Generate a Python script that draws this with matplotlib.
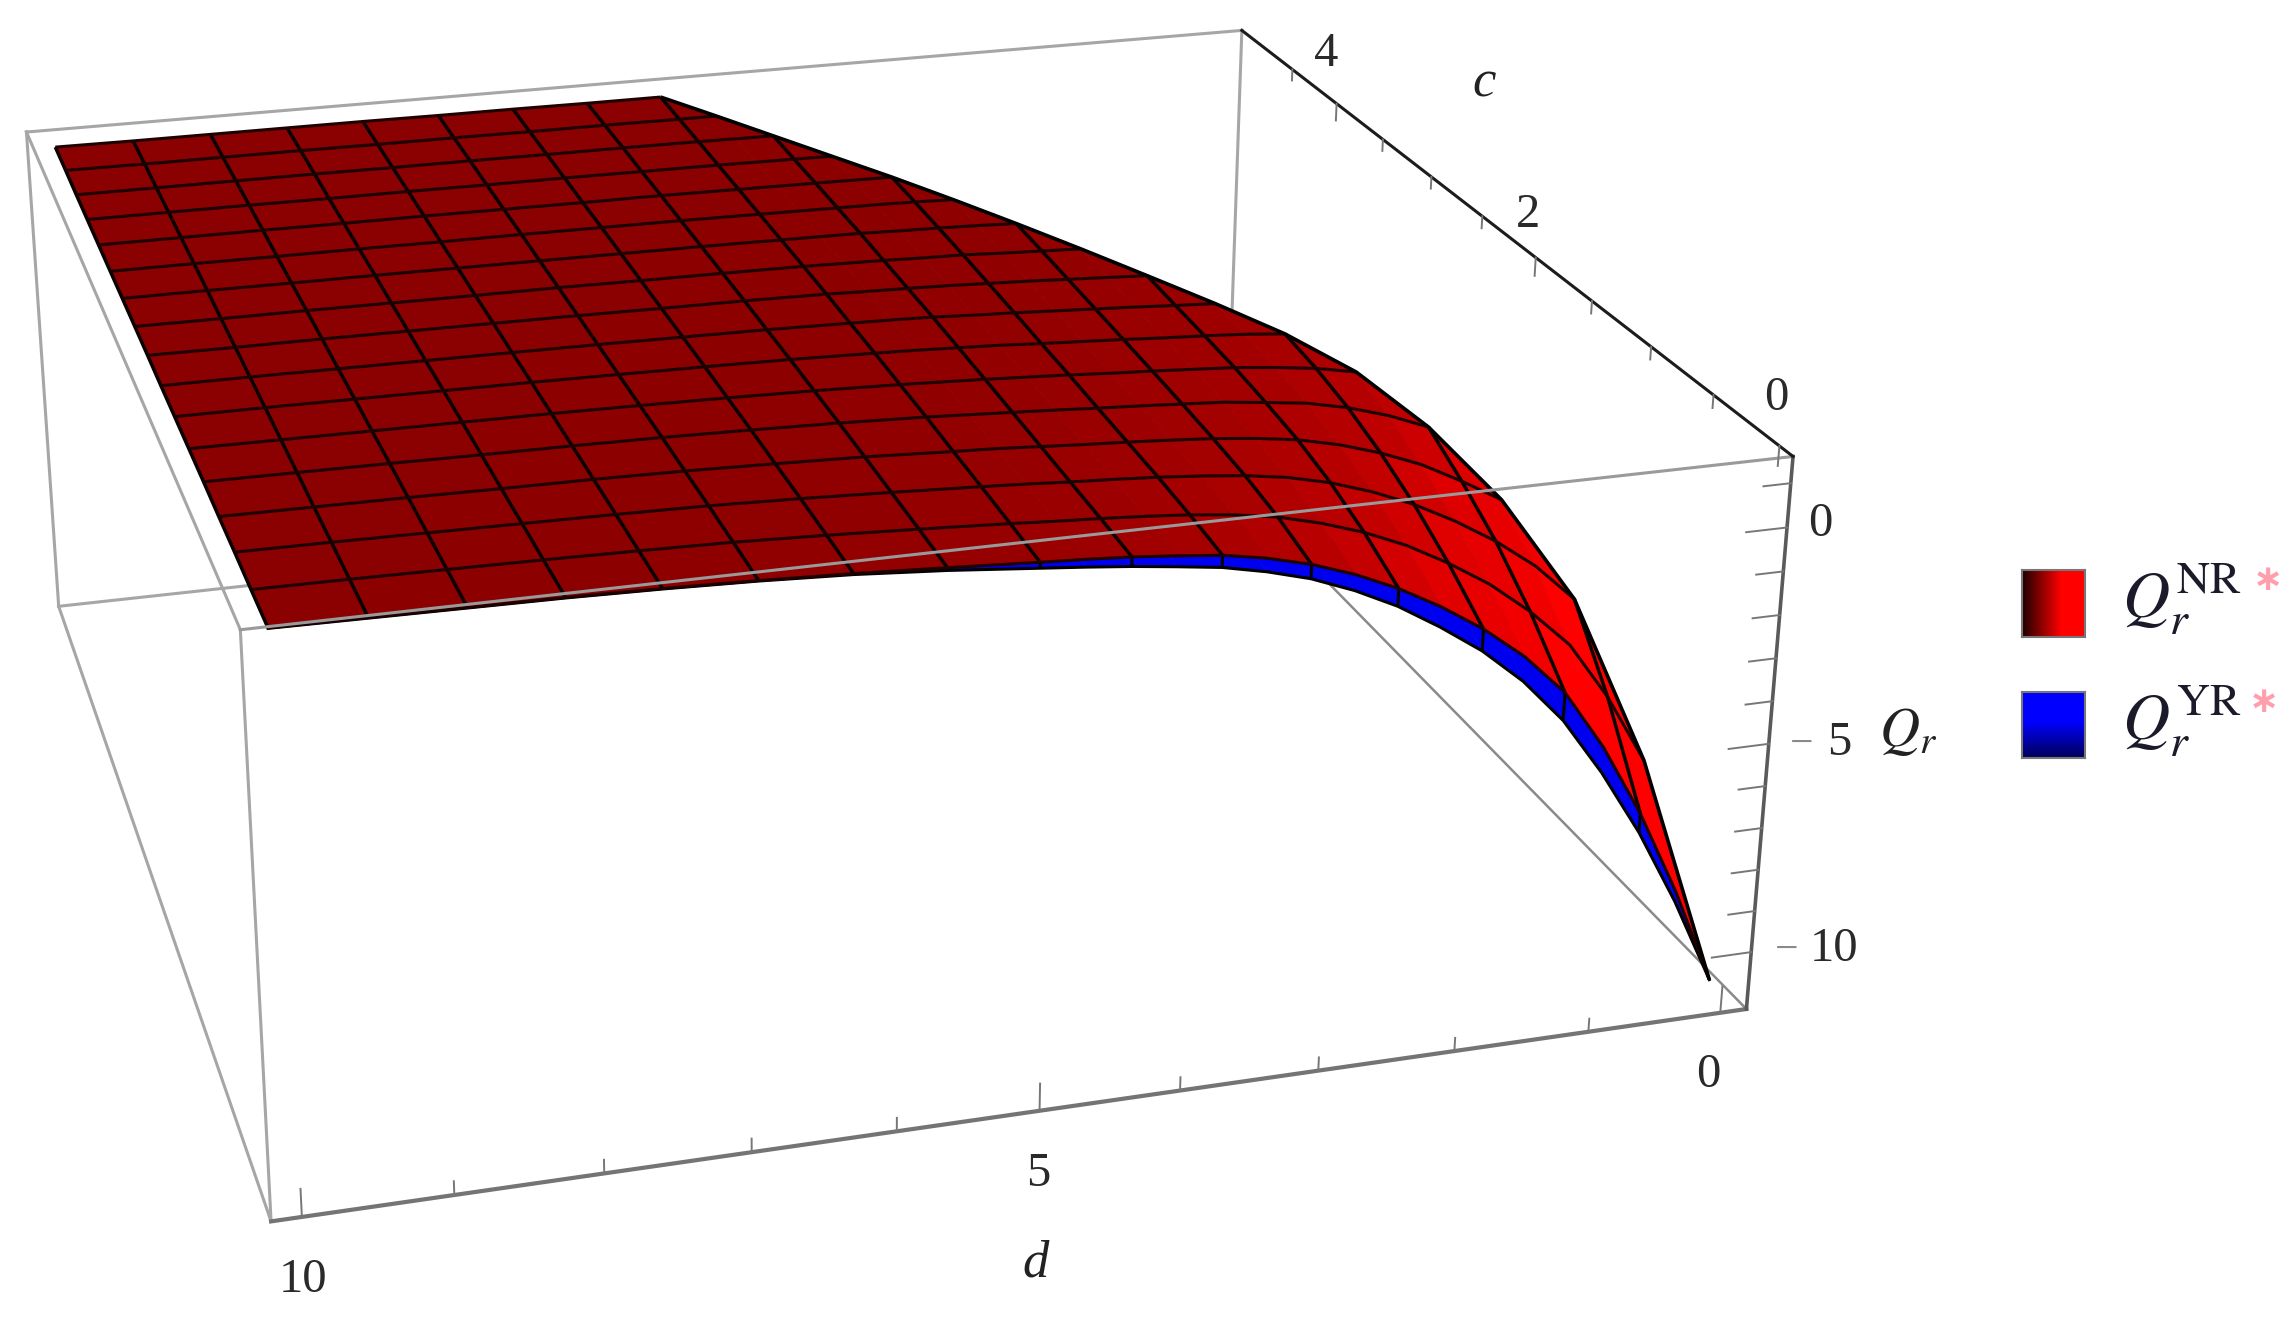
"""
Surface plot of Qr over d and c, with the NR surface above the YR surface.
"""

import numpy as np
import matplotlib
matplotlib.use("Agg")
import matplotlib.pyplot as plt
from mpl_toolkits.mplot3d.art3d import Poly3DCollection, Line3DCollection

WIDTH, HEIGHT = 2293, 1327

D_LIM = (-0.2, 10.2)
C_LIM = (-0.1, 5.1)
Q_LIM = (-11.4, 1.6)

D_VALUES = [0, 0.3125, 0.625, 0.9375, 1.25, 1.5625, 1.875, 2.1875, 2.5, 2.8125,
            3.125, 3.4375, 3.75, 4.0625, 4.375, 4.6875, 5,
            5.625, 6.25, 6.875, 7.5, 8.125, 8.75, 9.375, 10]
C_VALUES = [0, 0.3125, 0.625, 0.9375, 1.25, 1.5625, 1.875, 2.1875, 2.5, 2.8125,
            3.125, 3.4375, 3.75, 4.0625, 4.375, 4.6875, 5]

# One row per d; each row runs from c = 0 up to c = min(d, 5)
Q_NR = [
    [-10.9],
    [-8.6, -6.35],
    [-6.6, -4.7, -3.2],
    [-4.9, -3.35, -2.3, -1.5],
    [-3.5, -2.45, -1.6, -0.95, -0.4],
    [-2.55, -1.7, -1.02, -0.45, -0.02, 0.31],
    [-1.8, -1.1, -0.52, -0.07, 0.27, 0.5, 0.64],
    [-1.18, -0.58, -0.12, 0.23, 0.48, 0.62, 0.73, 0.8],
    [-0.65, -0.17, 0.2, 0.45, 0.6, 0.72, 0.79, 0.85, 0.92],
    [-0.22, 0.15, 0.43, 0.59, 0.71, 0.78, 0.84, 0.91, 0.97, 1.03],
    [0.12, 0.4, 0.58, 0.69, 0.77, 0.84, 0.9, 0.96, 1.02, 1.07, 1.12],
    [0.37, 0.56, 0.68, 0.76, 0.83, 0.89, 0.95, 1.01, 1.07, 1.11, 1.16, 1.19],
    [0.55, 0.67, 0.76, 0.82, 0.88, 0.95, 1.0, 1.06, 1.11, 1.16, 1.19, 1.22, 1.24],
    [0.65, 0.75, 0.82, 0.87, 0.94, 1.0, 1.06, 1.1, 1.15, 1.18, 1.21, 1.24, 1.25, 1.26],
    [0.74, 0.81, 0.87, 0.93, 0.99, 1.05, 1.1, 1.15, 1.18, 1.21, 1.24, 1.25, 1.26, 1.27, 1.28],
    [0.8, 0.86, 0.93, 0.99, 1.04, 1.09, 1.14, 1.18, 1.2, 1.23, 1.25, 1.26, 1.27, 1.28, 1.29, 1.3],
    [0.85, 0.92, 0.98, 1.03, 1.09, 1.13, 1.17, 1.2, 1.23, 1.25, 1.26, 1.27, 1.28, 1.29, 1.3, 1.3, 1.31],
    [0.96, 1.02, 1.07, 1.12, 1.16, 1.19, 1.22, 1.24, 1.26, 1.27, 1.28, 1.29, 1.3, 1.3, 1.31, 1.31, 1.31],
    [1.06, 1.11, 1.15, 1.18, 1.21, 1.23, 1.25, 1.26, 1.27, 1.28, 1.29, 1.3, 1.3, 1.31, 1.31, 1.31, 1.32],
    [1.14, 1.18, 1.21, 1.23, 1.25, 1.26, 1.27, 1.28, 1.29, 1.3, 1.3, 1.31, 1.31, 1.31, 1.32, 1.32, 1.32],
    [1.2, 1.22, 1.24, 1.26, 1.27, 1.28, 1.29, 1.29, 1.3, 1.3, 1.31, 1.31, 1.32, 1.32, 1.32, 1.32, 1.33],
    [1.24, 1.25, 1.26, 1.27, 1.28, 1.29, 1.3, 1.3, 1.31, 1.31, 1.32, 1.32, 1.32, 1.32, 1.33, 1.33, 1.33],
    [1.26, 1.27, 1.28, 1.29, 1.3, 1.3, 1.31, 1.31, 1.32, 1.32, 1.32, 1.32, 1.33, 1.33, 1.33, 1.33, 1.33],
    [1.28, 1.29, 1.3, 1.3, 1.31, 1.31, 1.32, 1.32, 1.32, 1.32, 1.33, 1.33, 1.33, 1.33, 1.33, 1.33, 1.33],
    [1.3, 1.3, 1.31, 1.31, 1.32, 1.32, 1.32, 1.32, 1.33, 1.33, 1.33, 1.33, 1.33, 1.33, 1.33, 1.34, 1.34],
]

# YR is only seen as the strip under the front edge of NR: c = 0 and the next c column
Q_YR_C0 = [-10.9, -8.85, -7.05, -5.5, -4.15, -3.12, -2.3, -1.64, -1.05, -0.58,
           -0.2, 0.07, 0.28, 0.41, 0.53, 0.63, 0.72,
           0.9, 1.04, 1.13, 1.19, 1.23, 1.25, 1.27, 1.29]
Q_YR_C1 = [None, -6.5, -5.0, -3.75, -2.85, -2.05, -1.5, -0.95, -0.5, -0.12,
           0.18, 0.36, 0.5, 0.6, 0.68, 0.76, 0.84,
           0.98, 1.1, 1.17, 1.21, 1.24, 1.26, 1.28, 1.29]

D_MESH = [0.625, 1.25, 1.875, 2.5, 3.125, 3.75, 4.375, 5, 5.625, 6.25, 6.875, 7.5, 8.125, 8.75, 9.375, 10]

D_TICKS = [0, 1, 2, 3, 4, 5, 6, 7, 8, 9, 10]
C_TICKS = [0, 0.5, 1, 1.5, 2, 2.5, 3, 3.5, 4, 4.5]
Q_TICKS = [1, 0, -1, -2, -3, -4, -5, -6, -7, -8, -9, -10]
D_MAJOR = [0, 5, 10]
C_MAJOR = [0, 2, 4]
Q_MAJOR = [0, -5, -10]


def frac(x, y):
    # positions measured on the 1568 px wide view of the figure
    scale = WIDTH / 1568
    return x * scale / WIDTH, 1 - y * scale / HEIGHT


def nr_color(q):
    red = np.interp(q, [-3.5, -1.0, 0.5, 1.0, 1.3], [255, 222, 172, 148, 139])
    return (red / 255, 0, 0, 1)


def surface_cells(rows, columns):
    cells = []
    levels = []
    for a in range(len(rows) - 1):
        row_a, row_b = rows[a], rows[a + 1]
        d_a, d_b = D_VALUES[a], D_VALUES[a + 1]
        for j in range(len(row_b) - 1):
            if j >= len(row_a) or row_b[j] is None or row_b[j + 1] is None:
                continue
            cell = [(columns[j], d_a, row_a[j]), (columns[j], d_b, row_b[j]),
                    (columns[j + 1], d_b, row_b[j + 1])]
            if j + 1 < len(row_a) and row_a[j + 1] is not None:
                cell.append((columns[j + 1], d_a, row_a[j + 1]))
            cells.append(cell)
            levels.append(np.mean([p[2] for p in cell]))
    return cells, levels


def mesh_segments():
    lines = []
    # lines of constant d
    for d in D_MESH:
        i = D_VALUES.index(d)
        lines.append([(C_VALUES[j], d, q) for j, q in enumerate(Q_NR[i])])
    # lines of constant c, from the diagonal c = d out to d = 10
    lines_c = []
    for j, c in enumerate(C_VALUES):
        line = [(c, D_VALUES[i], Q_NR[i][j]) for i in range(len(D_VALUES)) if j < len(Q_NR[i])]
        lines_c.append(line)
    # diagonal edge
    diag = [(C_VALUES[i], D_VALUES[i], Q_NR[i][i]) for i in range(len(C_VALUES))]
    return lines, lines_c, diag


def draw_box(ax):
    c0, c1 = C_LIM
    d0, d1 = D_LIM
    q0, q1 = Q_LIM
    gray = dict(color="#a6a6a6", lw=2.2, clip_on=False)

    # hidden side of the box, behind the surface
    for xs, ys, zs in [
        ((c1, c1), (d0, d1), (q0, q0)),
        ((c1, c1), (d0, d0), (q0, q1)),
        ((c1, c1), (d1, d1), (q0, q1)),
        ((c1, c1), (d0, d1), (q1, q1)),
        ((c0, c1), (d1, d1), (q1, q1)),
        ((c0, c1), (d1, d1), (q0, q0)),
        ((c0, c0), (d1, d1), (q0, q1)),
    ]:
        ax.plot(xs, ys, zs, zorder=1, **gray)
    ax.plot((c0, c1), (d0, d0), (q0, q0), color="#8a8a8a", lw=1.8, zorder=1, clip_on=False)

    # the edge across the front of the surface
    ax.plot((c0, c0), (d0, d1), (q1, q1), color="#9a9a9a", lw=2.2, zorder=6, clip_on=False)

    # axis edges
    ax.plot((c0, c0), (d0, d1), (q0, q0), color="#747474", lw=3.0, zorder=6, clip_on=False)
    ax.plot((c0, c0), (d0, d0), (q0, q1), color="#5a5a5a", lw=2.6, zorder=6, clip_on=False)
    ax.plot((c0, c1), (d0, d0), (q1, q1), color="#1c1c1c", lw=2.2, zorder=6, clip_on=False)

    tick = dict(color="#777777", lw=1.4, zorder=6, clip_on=False)
    for d in D_TICKS:
        size = 0.65 if d in D_MAJOR else 0.32
        ax.plot((c0, c0), (d, d), (q0, q0 + size), **tick)
    for c in C_TICKS:
        size = 0.45 if c in C_MAJOR else 0.3
        ax.plot((c, c), (d0, d0), (q1, q1 - size), **tick)
    for q in Q_TICKS:
        size = 0.3 if q in Q_MAJOR else 0.2
        ax.plot((c0, c0), (d0, d0 + size), (q, q), **tick)


def draw_surfaces(ax):
    rows_yr = [[a] if b is None else [a, b] for a, b in zip(Q_YR_C0, Q_YR_C1)]
    cells, _ = surface_cells(rows_yr, C_VALUES)
    blue = Poly3DCollection(cells, facecolors="#0000f0", edgecolors="#0000f0",
                            linewidths=0.5, zorder=2, clip_on=False)
    ax.add_collection3d(blue, autolim=False)
    ax.plot(C_VALUES[0:1] * len(D_VALUES), D_VALUES, Q_YR_C0, color="black", lw=2.2,
            zorder=2.5, clip_on=False)
    ticks = [[(0, d, Q_YR_C0[D_VALUES.index(d)]), (0, d, Q_NR[D_VALUES.index(d)][0])] for d in D_MESH]
    ax.add_collection3d(Line3DCollection(ticks, colors="black", linewidths=2.2, zorder=2.5, clip_on=False),
                        autolim=False)

    cells, levels = surface_cells(Q_NR, C_VALUES)
    colors = [nr_color(q) for q in levels]
    red = Poly3DCollection(cells, facecolors=colors, edgecolors=colors,
                           linewidths=0.5, zorder=3, clip_on=False)
    ax.add_collection3d(red, autolim=False)

    d_lines, c_lines, diag = mesh_segments()
    for lines, color, width in [(d_lines, "#0a0000", 2.5), (c_lines, "#1e0000", 2.2), ([diag], "black", 2.6)]:
        ax.add_collection3d(Line3DCollection(lines, colors=color, linewidths=width, zorder=4, clip_on=False),
                            autolim=False)


def draw_labels(fig):
    tick_font = dict(family="Liberation Serif", fontsize=35, color="#2a2a2a", ha="center", va="center")
    for x, y, s in [(907, 37, "4"), (1045, 147, "2"), (1215, 272, "0"),
                    (1245, 358, "0"), (1258, 508, "5"), (1254, 649, "10"),
                    (1168, 735, "0"), (710, 803, "5"), (207, 875, "10")]:
        fig.text(*frac(x, y), s, **tick_font)
    # detached minus signs beside the Qr tick labels
    for x, y in [(1232, 509), (1222, 650)]:
        fig.text(*frac(x, y), "\u2212", family="Liberation Serif", fontsize=30, color="#8a8a8a",
                 ha="center", va="center")

    axis_font = dict(family="Liberation Serif", style="italic", fontsize=38, color="#222222",
                     ha="center", va="center")
    fig.text(*frac(1015, 57), "c", **axis_font)
    fig.text(*frac(708, 864), "d", **axis_font)
    fig.text(*frac(1305, 500), r"$Q_r$", fontsize=40, color="#222222", ha="center", va="center")


def draw_legend(fig):
    x0, x1 = 2022 / WIDTH, 2085 / WIDTH
    ramp = np.linspace(0, 1, 64)

    red_ax = fig.add_axes([x0, 1 - 637 / HEIGHT, x1 - x0, 67 / HEIGHT])
    red_img = np.zeros((1, 64, 3))
    red_img[0, :, 0] = 0.12 + 0.88 * np.minimum(ramp * 1.6, 1)
    red_ax.imshow(red_img, aspect="auto", interpolation="bilinear")

    blue_ax = fig.add_axes([x0, 1 - 758 / HEIGHT, x1 - x0, 66 / HEIGHT])
    blue_img = np.zeros((64, 1, 3))
    blue_img[:, 0, 2] = 1 - 0.65 * np.maximum(ramp - 0.45, 0) / 0.55
    blue_ax.imshow(blue_img, aspect="auto", interpolation="bilinear")

    for a in (red_ax, blue_ax):
        a.set_xticks([])
        a.set_yticks([])
        for spine in a.spines.values():
            spine.set_color("#777777")
            spine.set_linewidth(1.5)

    text = dict(fontsize=47, color="#1a1a2a", ha="left", va="baseline")
    fig.text(2122 / WIDTH, 1 - 618 / HEIGHT, r"$Q_r^{\mathrm{NR}}$", **text)
    fig.text(2122 / WIDTH, 1 - 740 / HEIGHT, r"$Q_r^{\mathrm{YR}}$", **text)

    star = dict(family="DejaVu Sans", fontsize=26, fontweight="bold", color="#ff9fae",
                ha="center", va="center")
    fig.text(2268 / WIDTH, 1 - 580 / HEIGHT, "\u2217", **star)
    fig.text(2264 / WIDTH, 1 - 702 / HEIGHT, "\u2217", **star)


def main():
    plt.rcParams["mathtext.fontset"] = "stix"
    fig = plt.figure(figsize=(WIDTH / 100, HEIGHT / 100), dpi=100, facecolor="white")

    scale = WIDTH / 1568
    cx, cy = 565.18, 369.24
    side = 973.68 * scale
    ax = fig.add_axes([(cx - 500) * scale / WIDTH, 1 - (cy + 500) * scale / HEIGHT,
                       side / WIDTH, side / HEIGHT], projection="3d")
    ax.set_xlim(*C_LIM)
    ax.set_ylim(*D_LIM)
    ax.set_zlim(*Q_LIM)
    ax.view_init(22.5846, 163.9853)
    ax.set_proj_type("persp", focal_length=0.6144)
    ax.set_box_aspect((0.996, 1, 0.3991), zoom=1.3848)
    ax.computed_zorder = False
    ax.set_axis_off()
    ax.patch.set_alpha(0)

    draw_box(ax)
    draw_surfaces(ax)
    draw_labels(fig)
    draw_legend(fig)

    fig.savefig("out.png", dpi=100)
    plt.close(fig)


if __name__ == "__main__":
    main()
